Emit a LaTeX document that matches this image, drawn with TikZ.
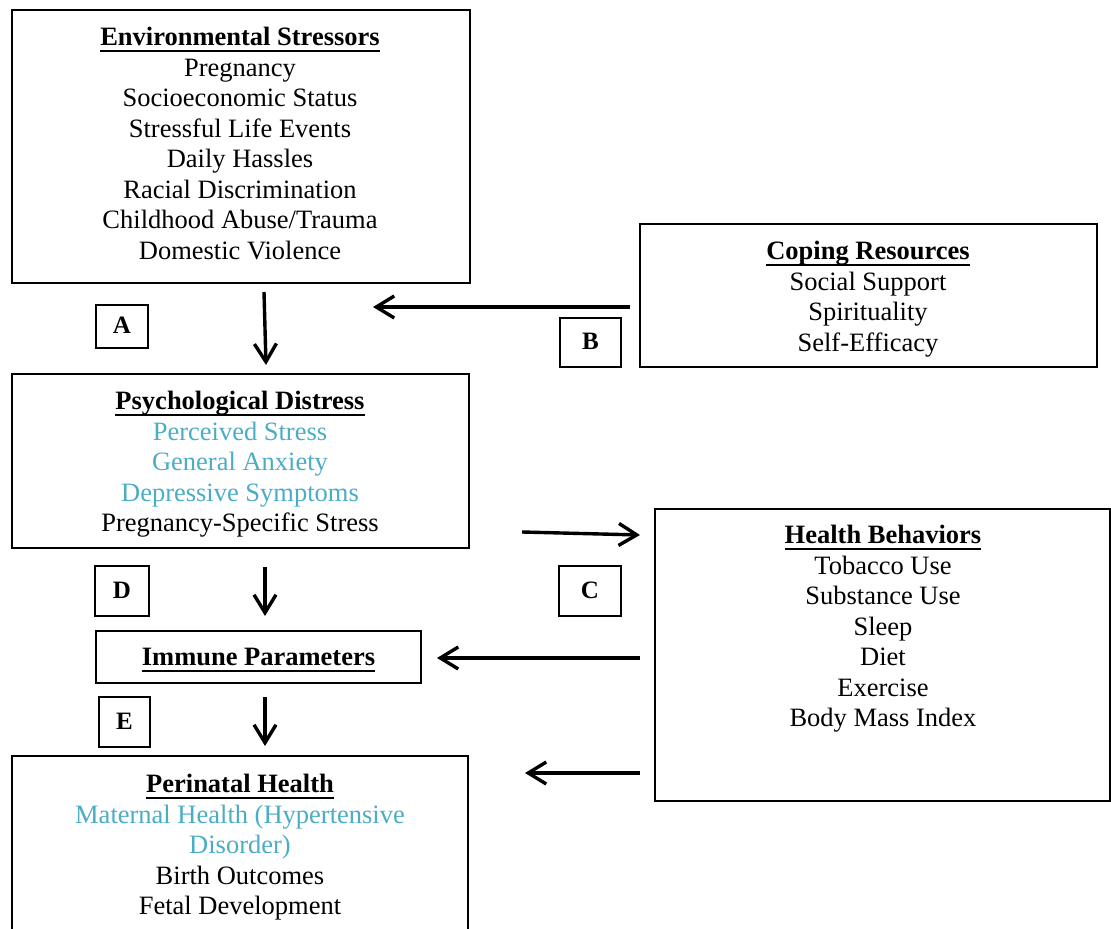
\documentclass[tikz,border=0pt]{standalone}
\usepackage{fontspec}
\setmainfont{Liberation Serif}
\usetikzlibrary{fit,arrows.meta}
\definecolor{accentblue}{HTML}{4BACC6}
\tikzset{
  box/.style={draw, line width=1pt, inner sep=0pt, rectangle},
  lbl/.style={draw, line width=0.9pt, inner sep=0pt, rectangle, text height=7.5pt, text depth=0pt, font=\fontsize{12.5}{14}\selectfont\bfseries},
  txt/.style={anchor=north, inner sep=0pt, align=center, font=\fontsize{13.25}{15.25}\selectfont},
  arr/.style={line width=1.7pt, -{Straight Barb[length=9pt,width=11pt]}},
}
\newcommand{\ttl}[1]{\setbox0\hbox{\textbf{#1}}\rlap{\rule[-3pt]{\wd0}{1pt}}\box0}
\begin{document}
\begin{tikzpicture}[x=0.5pt,y=-0.5pt]
\useasboundingbox (0,0) rectangle (1111,929);
\clip (0,0) rectangle (1111,929);
% boxes
\node[box, fit={(12,10) (470,283)}] (env) {};
\node[box, fit={(640,224) (1097,367)}] (cop) {};
\node[box, fit={(12,374) (469,548)}] (psy) {};
\node[box, fit={(655,509) (1110,801)}] (hb) {};
\node[box, minimum width=162.5pt, minimum height=26pt, text height=8.5pt, text depth=0pt, font=\fontsize{13.25}{15.25}\selectfont] (imm) at (258.5,657) {\ttl{Immune Parameters}};
\node[box, fit={(12,756) (468,960)}] (per) {};
% texts
\node[txt] (envt) at (240,27) {\ttl{Environmental Stressors}\\Pregnancy\\Socioeconomic Status\\Stressful Life Events\\Daily Hassles\\Racial Discrimination\\Childhood Abuse/Trauma\\Domestic Violence};
\node[txt] (copt) at (868,241) {\ttl{Coping Resources}\\Social Support\\Spirituality\\Self-Efficacy};
\node[txt] (psyt) at (240,391) {\ttl{Psychological Distress}\\\textcolor{accentblue}{Perceived Stress}\\\textcolor{accentblue}{General Anxiety}\\\textcolor{accentblue}{Depressive Symptoms}\\Pregnancy-Specific Stress};
\node[txt] (hbt) at (883,525) {\ttl{Health Behaviors}\\Tobacco Use\\Substance Use\\Sleep\\Diet\\Exercise\\Body Mass Index};
\node[txt] (pert) at (240,774) {\ttl{Perinatal Health}\\\textcolor{accentblue}{Maternal Health (Hypertensive}\\\textcolor{accentblue}{Disorder)}\\Birth Outcomes\\Fetal Development};
% label boxes
\node[lbl, minimum width=26pt, minimum height=21.5pt] (A) at (122,326.5) {A};
\node[lbl, minimum width=30.5pt, minimum height=24.5pt] (B) at (590.5,342.5) {B};
\node[lbl, minimum width=31pt, minimum height=25pt] (C) at (590,591) {C};
\node[lbl, minimum width=27pt, minimum height=25pt] (D) at (122,591) {D};
\node[lbl, minimum width=25.5pt, minimum height=25pt] (E) at (124.5,722) {E};
% arrow end points
\coordinate (a1s) at (264,292); \coordinate (a1e) at (266,365);
\coordinate (a2s) at (630,307); \coordinate (a2e) at (373,307);
\coordinate (a3s) at (522,532); \coordinate (a3e) at (640,535);
\coordinate (a4s) at (265,567); \coordinate (a4e) at (265,616);
\coordinate (a5s) at (640,658); \coordinate (a5e) at (437,658);
\coordinate (a6s) at (265,697); \coordinate (a6e) at (265,746);
\coordinate (a7s) at (640,773); \coordinate (a7e) at (525,773);
\draw[arr] (a1s) -- (a1e);
\draw[arr] (a2s) -- (a2e);
\draw[arr] (a3s) -- (a3e);
\draw[arr] (a4s) -- (a4e);
\draw[arr] (a5s) -- (a5e);
\draw[arr] (a6s) -- (a6e);
\draw[arr] (a7s) -- (a7e);
\end{tikzpicture}
\end{document}
